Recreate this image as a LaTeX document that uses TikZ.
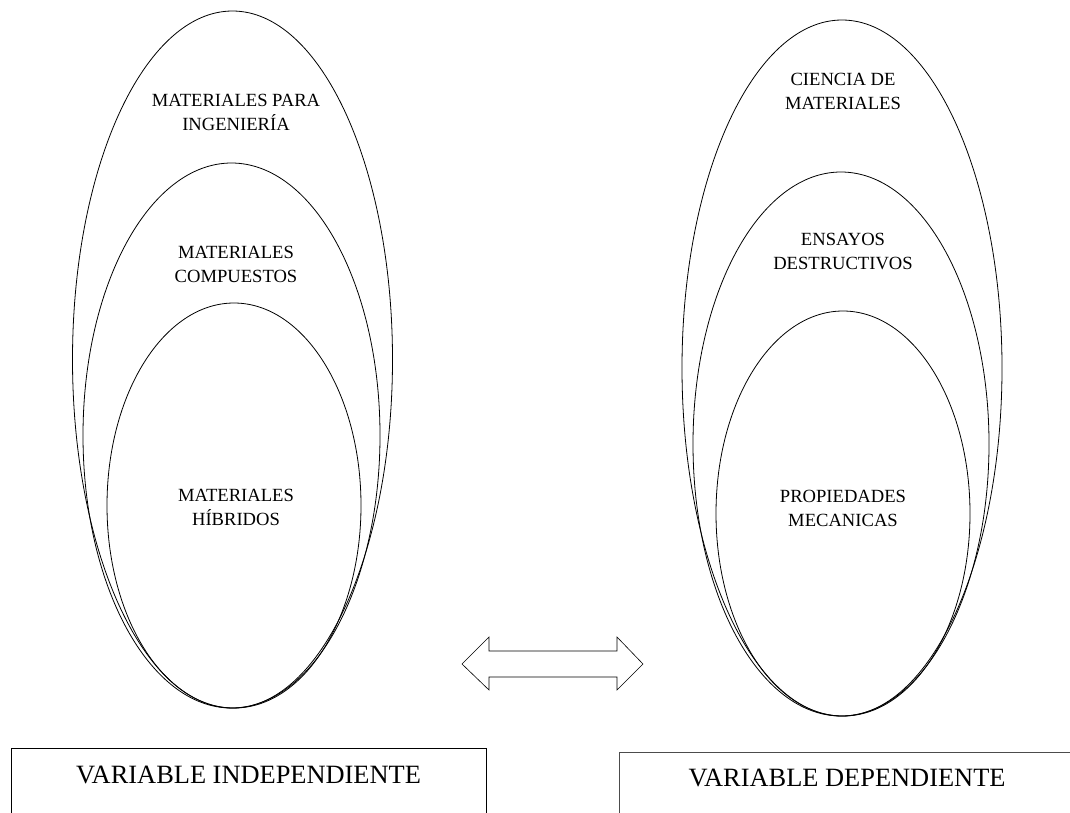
\documentclass[tikz,border=0pt]{standalone}
\usepackage{fontspec}
\setmainfont{Liberation Serif}

\begin{document}
\begin{tikzpicture}[x=1pt, y=-1pt, line width=0.8pt,
    txt/.style={align=center, inner sep=0pt, font=\fontsize{18.6}{24}\selectfont},
    vartxt/.style={inner sep=0pt, font=\fontsize{26.4}{30}\selectfont}]
    \useasboundingbox (0, 0) rectangle (1070, 812);
    \draw (232.5, 359.5) ellipse [x radius=160, y radius=348.5];
    \draw (231.5, 435.5) ellipse [x radius=148.5, y radius=272.5];
    \draw (234, 505.5) ellipse [x radius=127, y radius=202.5];
    \draw (842, 368) ellipse [x radius=160, y radius=348];
    \draw (841, 444) ellipse [x radius=148, y radius=272];
    \draw (843, 513.5) ellipse [x radius=127, y radius=202.5];
    \node[txt] (ing) at (236, 112) {MATERIALES PARA\\INGENIERÍA};
    \node[txt] (comp) at (236, 264.5) {MATERIALES\\COMPUESTOS};
    \node[txt] (hib) at (236, 507) {MATERIALES\\HÍBRIDOS};
    \node[txt] (cien) at (843, 91.5) {CIENCIA DE\\MATERIALES};
    \node[txt] (ens) at (843, 251.5) {ENSAYOS\\DESTRUCTIVOS};
    \node[txt] (prop) at (843, 508.5) {PROPIEDADES\\MECANICAS};
    \draw[line width=0.6pt] (462, 664) -- (489, 637) -- (489, 651) -- (617, 651)
      -- (617, 637) -- (643, 664) -- (617, 690) -- (617, 677) -- (489, 677)
      -- (489, 690) -- cycle;
    \draw (11, 748) rectangle (486, 830);
    \draw[black!70] (619, 752) rectangle (1076, 830);
    \node[vartxt] (indep) at (248.5, 775) {VARIABLE INDEPENDIENTE};
    \node[vartxt] (dep) at (847, 778) {VARIABLE DEPENDIENTE};
  \end{tikzpicture}
\end{document}
